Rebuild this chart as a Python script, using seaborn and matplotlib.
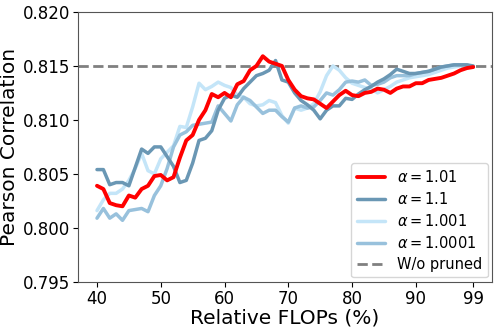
import numpy as np
import pandas as pd
import matplotlib
matplotlib.use("Agg")
import matplotlib.pyplot as plt
import seaborn as sns

# relative FLOPs (%)
flops = list(range(40, 100))

# Pearson correlation for each alpha
corr_1_01 = [0.8039, 0.8036, 0.8023, 0.8021, 0.8020, 0.8030, 0.8028, 0.8036, 0.8039, 0.8048,
             0.8049, 0.8044, 0.8047, 0.8065, 0.8081, 0.8086, 0.8100, 0.8109, 0.8124, 0.8121,
             0.8125, 0.8121, 0.8133, 0.8136, 0.8146, 0.8150, 0.8159, 0.8154, 0.8152, 0.8150,
             0.8137, 0.8128, 0.8122, 0.8120, 0.8119, 0.8115, 0.8111, 0.8117, 0.8123, 0.8127,
             0.8123, 0.8122, 0.8125, 0.8126, 0.8129, 0.8128, 0.8125, 0.8129, 0.8131, 0.8131,
             0.8134, 0.8134, 0.8137, 0.8138, 0.8139, 0.8141, 0.8143, 0.8146, 0.8148, 0.8149]

corr_1_1 = [0.8054, 0.8054, 0.8040, 0.8042, 0.8042, 0.8039, 0.8056, 0.8073, 0.8069, 0.8075,
            0.8075, 0.8066, 0.8057, 0.8042, 0.8044, 0.8060, 0.8081, 0.8083, 0.8090, 0.8109,
            0.8120, 0.8123, 0.8121, 0.8129, 0.8135, 0.8141, 0.8143, 0.8146, 0.8155, 0.8137,
            0.8135, 0.8125, 0.8118, 0.8114, 0.8109, 0.8101, 0.8109, 0.8113, 0.8113, 0.8120,
            0.8119, 0.8124, 0.8128, 0.8131, 0.8135, 0.8138, 0.8142, 0.8147, 0.8145, 0.8143,
            0.8143, 0.8144, 0.8145, 0.8147, 0.8149, 0.8150, 0.8151, 0.8151, 0.8151, 0.8150]

corr_1_001 = [0.8016, 0.8026, 0.8032, 0.8032, 0.8036, 0.8044, 0.8055, 0.8069, 0.8053, 0.8050,
              0.8064, 0.8070, 0.8076, 0.8094, 0.8093, 0.8112, 0.8134, 0.8128, 0.8131, 0.8135,
              0.8132, 0.8130, 0.8123, 0.8121, 0.8115, 0.8113, 0.8114, 0.8118, 0.8116, 0.8104,
              0.8097, 0.8111, 0.8109, 0.8111, 0.8115, 0.8126, 0.8141, 0.8150, 0.8146, 0.8139,
              0.8134, 0.8132, 0.8130, 0.8129, 0.8125, 0.8128, 0.8131, 0.8135, 0.8137, 0.8139,
              0.8140, 0.8141, 0.8142, 0.8144, 0.8146, 0.8148, 0.8149, 0.8150, 0.8150, 0.8149]

corr_1_0001 = [0.8009, 0.8018, 0.8009, 0.8013, 0.8007, 0.8016, 0.8017, 0.8018, 0.8015, 0.8030,
               0.8039, 0.8055, 0.8075, 0.8086, 0.8089, 0.8095, 0.8096, 0.8097, 0.8098, 0.8113,
               0.8106, 0.8099, 0.8114, 0.8121, 0.8118, 0.8112, 0.8106, 0.8109, 0.8109, 0.8103,
               0.8098, 0.8111, 0.8113, 0.8111, 0.8112, 0.8118, 0.8125, 0.8123, 0.8128, 0.8135,
               0.8136, 0.8135, 0.8137, 0.8132, 0.8133, 0.8135, 0.8139, 0.8141, 0.8141, 0.8141,
               0.8143, 0.8144, 0.8145, 0.8147, 0.8149, 0.8150, 0.8151, 0.8151, 0.8151, 0.8149]

baseline = 0.815
x_ticks = [40, 50, 60, 70, 80, 90, 99]
y_ticks = [0.795, 0.800, 0.805, 0.810, 0.815, 0.820]

series = [
    (r"$\alpha=1.01$", corr_1_01, "red", 2.8, 5),
    (r"$\alpha=1.1$", corr_1_1, "#6a97b4", 2.5, 3),
    (r"$\alpha=1.001$", corr_1_001, "#c4e5f8", 2.5, 2),
    (r"$\alpha=1.0001$", corr_1_0001, "#98c1dc", 2.5, 2.5),
]

sns.set_style("ticks")
plt.rcParams['font.family'] = ['DejaVu Sans']
plt.rcParams['text.color'] = 'black'
plt.rcParams['axes.labelcolor'] = 'black'
plt.rcParams['xtick.color'] = 'black'
plt.rcParams['ytick.color'] = 'black'

fig = plt.figure(figsize=(4.98, 3.32), dpi=100)
ax = fig.add_axes([0.157, 0.151, 0.831, 0.813])

for label, vals, color, lw, z in series:
    df = pd.DataFrame({"flops": flops, "corr": vals})
    sns.lineplot(data=df, x="flops", y="corr", color=color, lw=lw,
                 label=label, ax=ax, zorder=z)

ax.axhline(baseline, color="gray", ls="--", lw=2, label="W/o pruned", zorder=1)

ax.set_ylim(0.795, 0.820)
ax.set_yticks(y_ticks)
ax.set_xticks(x_ticks)
ax.tick_params(labelsize=12, length=3.5, width=0.8, pad=2)
ax.set_xlabel("Relative FLOPs (%)", fontsize=14.5, labelpad=1)
ax.set_ylabel("Pearson Correlation", fontsize=14.5, labelpad=3)
for s in ax.spines.values():
    s.set_color("#555555")

ax.legend(loc="lower right", fontsize=10.5, labelspacing=0.4,
          handlelength=1.9, borderaxespad=0.3)

fig.savefig("out.png", dpi=100)
